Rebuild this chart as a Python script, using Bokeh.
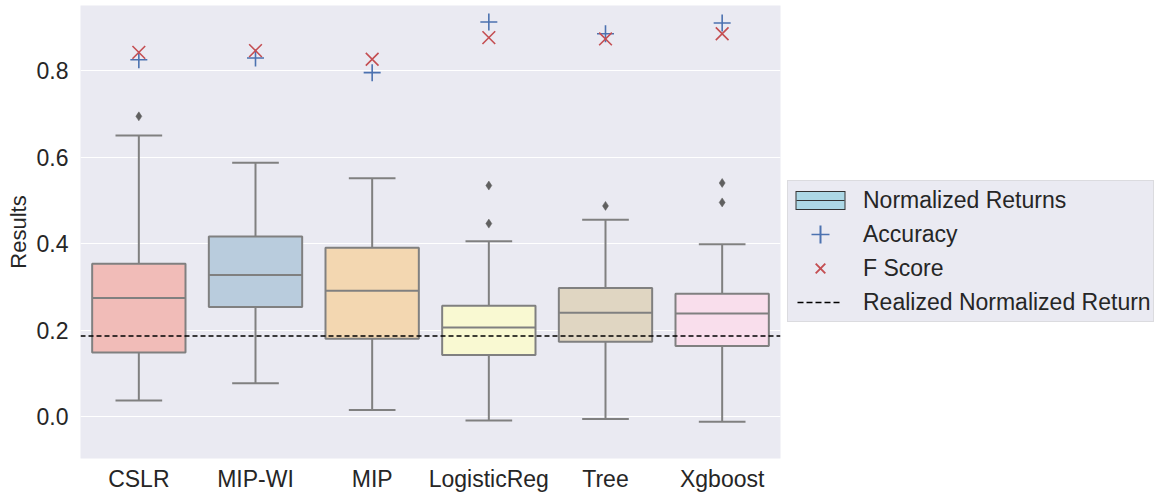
from bokeh.plotting import figure
from bokeh.models import (ColumnDataSource, FactorRange, Range1d, Span, Legend, LegendItem,
                          FixedTicker, PrintfTickFormatter)
from bokeh.transform import dodge
from bokeh.embed import file_html
from bokeh.resources import INLINE

# ---------------- data ----------------
models = ["CSLR", "MIP-WI", "MIP", "LogisticReg", "Tree", "Xgboost"]
q1 = [0.148, 0.253, 0.180, 0.142, 0.173, 0.163]
median = [0.274, 0.327, 0.291, 0.206, 0.240, 0.238]
q3 = [0.353, 0.416, 0.390, 0.256, 0.297, 0.284]
whisker_low = [0.037, 0.077, 0.015, -0.009, -0.006, -0.012]
whisker_high = [0.650, 0.587, 0.551, 0.405, 0.455, 0.398]
outlier_model = ["CSLR", "LogisticReg", "LogisticReg", "Tree", "Xgboost", "Xgboost"]
outlier_value = [0.694, 0.446, 0.534, 0.487, 0.495, 0.540]
accuracy = [0.825, 0.829, 0.795, 0.912, 0.885, 0.910]
f_score = [0.842, 0.846, 0.826, 0.876, 0.873, 0.885]
realized_return = 0.186
y_ticks = [0.0, 0.2, 0.4, 0.6, 0.8]
box_colors = ["#f1bcb8", "#b9ccdd", "#f3d7b1", "#f9f9d2", "#e0d6c2", "#f9deec"]

FONT = "Liberation Sans"
TEXT = "#262626"
GRAY = "#808080"
BLUE = "#4c72b0"
RED = "#c44e52"

p = figure(x_range=FactorRange(*models), y_range=Range1d(-0.0971, 0.9503),
           frame_width=700, frame_height=453,
           min_border_left=80, min_border_right=382, min_border_top=5, min_border_bottom=0,
           output_backend="svg", toolbar_location=None,
           background_fill_color="#eaeaf2", border_fill_color="white",
           outline_line_color=None)

src = ColumnDataSource(dict(model=models, q1=q1, q3=q3, med=median,
                            lo=whisker_low, hi=whisker_high, color=box_colors,
                            acc=accuracy, f=f_score))

# whiskers
p.segment(x0="model", x1="model", y0="q3", y1="hi", source=src, line_color=GRAY, line_width=2)
p.segment(x0="model", x1="model", y0="q1", y1="lo", source=src, line_color=GRAY, line_width=2)
# caps
p.segment(x0=dodge("model", -0.2, range=p.x_range), x1=dodge("model", 0.2, range=p.x_range),
          y0="hi", y1="hi", source=src, line_color=GRAY, line_width=2)
p.segment(x0=dodge("model", -0.2, range=p.x_range), x1=dodge("model", 0.2, range=p.x_range),
          y0="lo", y1="lo", source=src, line_color=GRAY, line_width=2)
# boxes
p.vbar(x="model", top="q3", bottom="q1", width=0.8, source=src,
       fill_color="color", line_color=GRAY, line_width=2)
# medians
p.segment(x0=dodge("model", -0.4, range=p.x_range), x1=dodge("model", 0.4, range=p.x_range),
          y0="med", y1="med", source=src, line_color=GRAY, line_width=2)
# outliers
p.scatter(x=outlier_model, y=outlier_value, marker="diamond", size=9,
          fill_color="#606060", line_color="#606060", line_width=0.5)

# accuracy & f score
r_acc = p.scatter(x="model", y="acc", source=src, marker="cross", size=17,
                  line_color=BLUE, line_width=1.6)
r_f = p.scatter(x="model", y="f", source=src, marker="x", size=18,
                line_color=RED, line_width=1.6)

# realized return line
p.add_layout(Span(location=realized_return, dimension="width", line_color="black",
                  line_dash="5 3", line_width=1.5))

# legend-only (hidden) renderers: glyph shapes built from dashed strokes
def hidden_stroke(color, width, dash):
    return p.segment(x0="model", x1="model", y0="med", y1="med", source=src,
                     line_color=color, line_width=width, line_dash=dash, visible=False)

r_box_edge = hidden_stroke("#333333", 19, "0 5 50 200")
r_box_fill = hidden_stroke("#add8e6", 17, "0 6 48 200")
r_box_med = hidden_stroke("#333333", 1.2, "0 6 48 200")
r_plus_h = hidden_stroke(BLUE, 1.7, "0 21 18 200")
r_plus_v = hidden_stroke(BLUE, 18, "0 29 2 200")
r_x_leg = p.scatter(x="model", y="f", source=src, marker="x", size=18,
                    line_color=RED, line_width=1.9, visible=False)
r_dash = hidden_stroke("black", 1.5, "0 7 6 3 6 3 6 3 6 3 6 200")

legend = Legend(items=[
    LegendItem(label="Normalized Returns", renderers=[r_box_edge, r_box_fill, r_box_med]),
    LegendItem(label="Accuracy", renderers=[r_plus_h, r_plus_v]),
    LegendItem(label="F Score", renderers=[r_x_leg]),
    LegendItem(label="Realized Normalized Return", renderers=[r_dash]),
], location=(7, 136), orientation="vertical",
    glyph_width=60, glyph_height=34, label_height=29, spacing=0, padding=2, margin=0,
    label_standoff=13, label_text_font=FONT, label_text_font_size="23px",
    label_text_color=TEXT, background_fill_color="#eaeaf2", background_fill_alpha=1,
    border_line_color="#cccccc", border_line_width=1, inactive_fill_alpha=0)
p.add_layout(legend, "right")

# axes & grid
p.xgrid.grid_line_color = None
p.ygrid.grid_line_color = "white"
p.ygrid.grid_line_width = 1.2
p.yaxis.ticker = FixedTicker(ticks=y_ticks)
p.yaxis.formatter = PrintfTickFormatter(format="%.1f")
for ax in (p.xaxis[0], p.yaxis[0]):
    ax.axis_line_color = None
    ax.major_tick_line_color = None
    ax.minor_tick_line_color = None
    ax.major_tick_out = 0
    ax.major_tick_in = 0
    ax.major_label_text_font = FONT
    ax.major_label_text_font_size = "23px"
    ax.major_label_text_color = TEXT
p.xaxis.major_label_standoff = 7
p.yaxis.major_label_standoff = 12
p.yaxis.axis_label = "Results"
p.yaxis.axis_label_text_font = FONT
p.yaxis.axis_label_text_font_size = "22px"
p.yaxis.axis_label_text_font_style = "normal"
p.yaxis.axis_label_text_color = TEXT
p.yaxis.axis_label_standoff = 3

open("out.html", "w").write(file_html(p, INLINE))
